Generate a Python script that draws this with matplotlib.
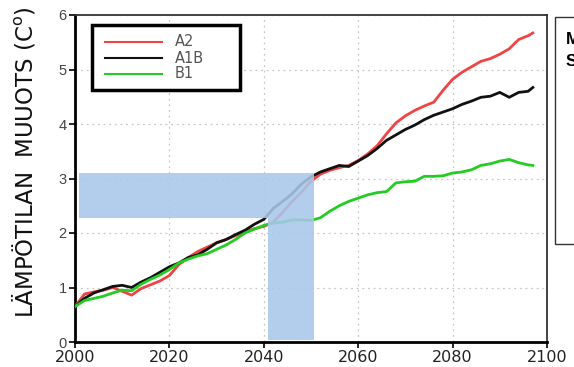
import matplotlib
matplotlib.use("Agg")
import matplotlib.pyplot as plt
from matplotlib.patches import Rectangle

years = list(range(2000, 2097, 2)) + [2097]

a2 = [0.65, 0.88, 0.92, 0.95, 1.00, 0.93, 0.86, 0.98, 1.05, 1.12,
      1.22, 1.42, 1.55, 1.66, 1.74, 1.82, 1.88, 1.95, 2.02, 2.08,
      2.12, 2.20, 2.38, 2.58, 2.75, 2.95, 3.08, 3.15, 3.20, 3.24,
      3.33, 3.45, 3.60, 3.82, 4.02, 4.15, 4.25, 4.33, 4.40, 4.62,
      4.82, 4.95, 5.05, 5.15, 5.20, 5.28, 5.38, 5.55, 5.62, 5.67]

a1b = [0.65, 0.80, 0.90, 0.96, 1.02, 1.04, 1.00, 1.10, 1.18, 1.28,
       1.38, 1.45, 1.55, 1.60, 1.70, 1.82, 1.88, 1.97, 2.05, 2.16,
       2.25, 2.45, 2.58, 2.72, 2.90, 3.03, 3.12, 3.18, 3.24, 3.22,
       3.32, 3.42, 3.55, 3.70, 3.80, 3.90, 3.98, 4.08, 4.16, 4.22,
       4.28, 4.36, 4.42, 4.49, 4.51, 4.58, 4.49, 4.58, 4.60, 4.67]

b1 = [0.65, 0.76, 0.80, 0.84, 0.90, 0.95, 0.94, 1.06, 1.15, 1.23,
      1.33, 1.45, 1.52, 1.58, 1.62, 1.70, 1.78, 1.88, 2.00, 2.07,
      2.14, 2.18, 2.20, 2.24, 2.24, 2.23, 2.28, 2.40, 2.50, 2.58,
      2.64, 2.70, 2.74, 2.76, 2.92, 2.94, 2.95, 3.04, 3.04, 3.05,
      3.10, 3.12, 3.16, 3.24, 3.27, 3.32, 3.35, 3.29, 3.25, 3.24]

series_names = ["A2", "A1B", "B1"]
series_colors = ["#ee4444", "#111111", "#22cc22"]

# highlighted period and warming level
band_years = (2040.9, 2050.6)
band_levels = (2.27, 3.10)
band_start = 2000.8
band_floor = 0.04

W, H = 574, 367
fig = plt.figure(figsize=(W / 100, H / 100), dpi=100)
ax = fig.add_axes([75 / W, 1 - 342 / H, (547 - 75) / W, (342 - 15) / H])

for vals, name, col in zip([a2, a1b, b1], series_names, series_colors):
    ax.plot(years, vals, color=col, lw=2.0, zorder=3)

shade = "#a8c8ea"
ax.add_patch(Rectangle((band_start, band_levels[0]), band_years[1] - band_start,
                       band_levels[1] - band_levels[0], facecolor=shade,
                       edgecolor="none", alpha=0.88, zorder=4))
ax.add_patch(Rectangle((band_years[0], band_floor), band_years[1] - band_years[0],
                       band_levels[0] - band_floor, facecolor=shade,
                       edgecolor="none", alpha=0.88, zorder=4))

ax.set_xlim(2000, 2100)
ax.set_ylim(0, 6)
ax.set_xticks([2000, 2020, 2040, 2060, 2080, 2100])
ax.set_yticks([0, 1, 2, 3, 4, 5, 6])
ax.grid(True, color="#c8c8c8", linestyle=(0, (1.5, 3)), lw=0.9)
ax.set_axisbelow(True)

for lab in ax.get_xticklabels():
    lab.set_fontsize(11.5)
    lab.set_color("#222222")
for lab in ax.get_yticklabels():
    lab.set_fontsize(10.5)
    lab.set_family("Liberation Sans")
    lab.set_color("#444444")
ax.tick_params(direction="out", length=4, width=1.2)
ax.tick_params(axis="x", pad=2)
ax.tick_params(axis="y", pad=2)

ax.spines["left"].set_linewidth(2.0)
ax.spines["bottom"].set_linewidth(2.0)
ax.spines["top"].set_linewidth(1.3)
ax.spines["right"].set_linewidth(1.3)
ax.spines["top"].set_color("#333333")
ax.spines["right"].set_color("#333333")

ax.set_ylabel("LÄMPÖTILAN  MUUOTS (C$^{\\mathrm{o}}$)", fontsize=16.5,
              family="DejaVu Sans", color="#111111", va="center")
ax.yaxis.set_label_coords(-0.108, 0.55)

# legend box drawn in axes coordinates
ax.add_patch(Rectangle((0.036, 0.7706), 0.3136, 0.1988, transform=ax.transAxes,
                       facecolor="white", edgecolor="black", lw=2.5, zorder=5))
row_y = [0.918, 0.8676, 0.8196]
for name, col, yy in zip(series_names, series_colors, row_y):
    ax.plot([0.0636, 0.1843], [yy, yy], transform=ax.transAxes, color=col,
            lw=1.5, zorder=6)
    ax.text(0.2119, yy, name, transform=ax.transAxes, fontsize=10.5,
            color="#555555", va="center", ha="left", zorder=6)

# side text box, running off the right edge
fig.add_artist(Rectangle((555 / W, 1 - 244 / H), 30 / W, (244 - 17) / H,
                         transform=fig.transFigure, facecolor="white",
                         edgecolor="#333333", lw=1.0, clip_on=False))
fig.text(566 / W, 1 - 39 / H, "M", fontsize=12, fontweight="bold",
         family="Liberation Sans", va="center", ha="left")
fig.text(566 / W, 1 - 62 / H, "S", fontsize=12, fontweight="bold",
         family="Liberation Sans", va="center", ha="left")

fig.savefig("out.png", dpi=100)
